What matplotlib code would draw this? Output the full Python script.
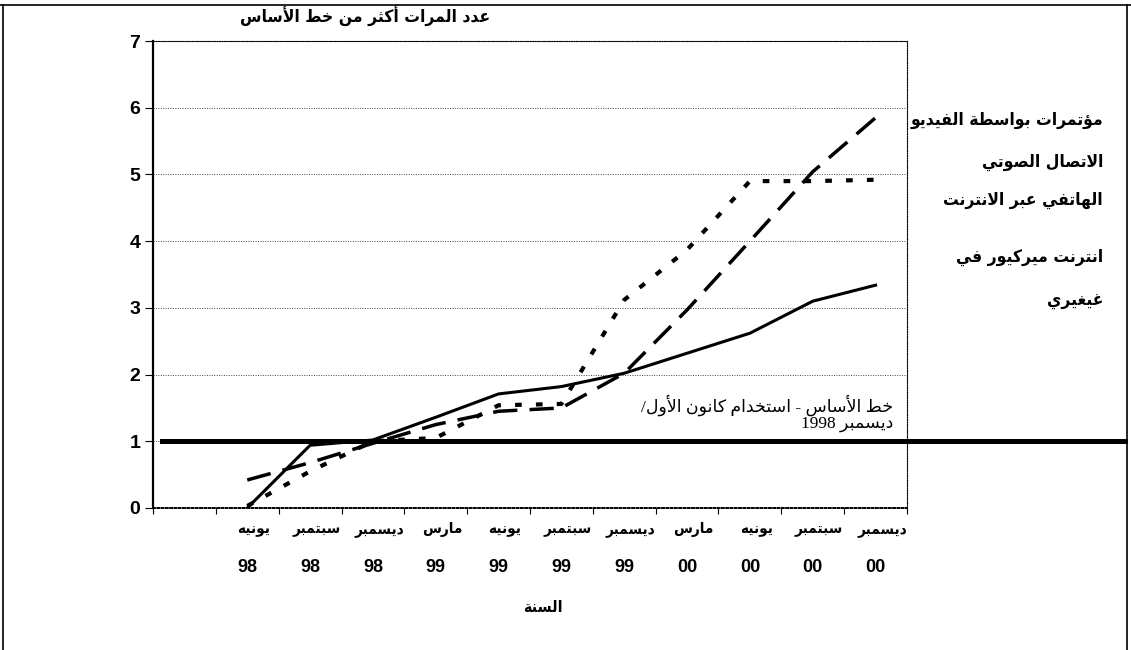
import numpy as np
import matplotlib.pyplot as plt
from matplotlib.lines import Line2D

# quarters, June 1998 .. December 2000 (first slot is empty)
months = ["", "يونيه", "سبتمبر", "ديسمبر", "مارس", "يونيه", "سبتمبر",
          "ديسمبر", "مارس", "يونيه", "سبتمبر", "ديسمبر"]
years = ["", "98", "98", "98", "99", "99", "99", "99", "00", "00", "00", "00"]

internet_mercury = [np.nan, 0.0, 0.94, 1.02, 1.36, 1.71, 1.82, 2.02, 2.32, 2.62, 3.10, 3.34]
video_conf = [np.nan, 0.42, 0.68, 0.97, 1.25, 1.45, 1.50, 2.02, 2.97, 4.00, 5.04, 5.85]
voice_ip = [np.nan, 0.03, 0.55, 1.00, 1.05, 1.54, 1.56, 3.12, 3.87, 4.90, 4.90, 4.92]
baseline = 1

title = "عدد المرات أكثر من خط الأساس"
x_title = "السنة"
series_names = ["مؤتمرات بواسطة الفيديو", "الاتصال الصوتي", "الهاتفي عبر الانترنت",
                "انترنت ميركيور في", "غيغيري"]
baseline_note = "خط الأساس - استخدام كانون الأول/\nديسمبر 1998"


# matplotlib has no arabic shaping, so pick presentation forms by hand
DUAL = {'ب': 0xFE8F, 'ت': 0xFE95, 'ث': 0xFE99, 'ج': 0xFE9D, 'ح': 0xFEA1,
        'خ': 0xFEA5, 'س': 0xFEB1, 'ش': 0xFEB5, 'ص': 0xFEB9, 'ض': 0xFEBD,
        'ط': 0xFEC1, 'ظ': 0xFEC5, 'ع': 0xFEC9, 'غ': 0xFECD, 'ف': 0xFED1,
        'ق': 0xFED5, 'ك': 0xFED9, 'ل': 0xFEDD, 'م': 0xFEE1, 'ن': 0xFEE5,
        'ه': 0xFEE9, 'ي': 0xFEF1}
RIGHT = {'ا': 0xFE8D, 'أ': 0xFE83, 'إ': 0xFE87, 'آ': 0xFE81, 'ؤ': 0xFE85,
         'ة': 0xFE93, 'د': 0xFEA9, 'ذ': 0xFEAB, 'ر': 0xFEAD, 'ز': 0xFEAF,
         'و': 0xFEED, 'ى': 0xFEEF}
LAM_ALEF = {'ا': 0xFEFB, 'أ': 0xFEF7, 'إ': 0xFEF9, 'آ': 0xFEF5}


def shape_line(text):
    units = []
    i = 0
    while i < len(text):
        c = text[i]
        if c == 'ل' and i + 1 < len(text) and text[i + 1] in LAM_ALEF:
            units.append(('R', LAM_ALEF[text[i + 1]]))
            i += 2
            continue
        if c in DUAL:
            units.append(('D', DUAL[c]))
        elif c in RIGHT:
            units.append(('R', RIGHT[c]))
        else:
            units.append((None, c))
        i += 1

    out = []
    for k, (kind, val) in enumerate(units):
        if kind is None:
            out.append(val)
            continue
        joins_prev = k > 0 and units[k - 1][0] == 'D'
        joins_next = (kind == 'D' and k + 1 < len(units)
                      and units[k + 1][0] in ('D', 'R'))
        if kind == 'R':
            form = 1 if joins_prev else 0
        else:
            form = [[0, 2], [1, 3]][joins_prev][joins_next]
        out.append(chr(val + form))

    # right-to-left order, digit runs stay left-to-right
    runs = []
    for ch in out:
        is_digit = ch.isdigit()
        if runs and runs[-1][0] == is_digit:
            runs[-1][1].append(ch)
        else:
            runs.append([is_digit, [ch]])
    visual = ""
    for is_digit, chars in reversed(runs):
        visual += "".join(chars if is_digit else reversed(chars))
    return visual


def ar(text):
    return "\n".join(shape_line(line) for line in text.split("\n"))


AR_FONT = dict(fontfamily="DejaVu Sans", fontweight="bold", fontstretch="condensed")

fig = plt.figure(figsize=(11.31, 6.5), dpi=100)
ax = fig.add_axes([153 / 1131, 1 - 508 / 650, 754 / 1131, 467 / 650])

x = np.arange(len(months))
ax.plot(x, internet_mercury, color="black", lw=2.2, solid_joinstyle="miter")
ax.plot(x, video_conf, color="black", lw=2.5, dashes=(7, 3.5))
ax.plot(x, voice_ip, color="black", lw=3.0, dashes=(1.6, 3.4))
ax.axhline(baseline, xmin=0.012, xmax=1.289, color="black", lw=3.6,
           clip_on=False)

ax.set_xlim(-0.5, len(months) - 0.5)
ax.set_ylim(0, 7)

ax.set_yticks(range(0, 8))
ax.set_yticklabels([str(v) for v in range(0, 8)],
                   fontfamily="Liberation Sans", fontweight="bold", fontsize=14)
ax.tick_params(axis="y", length=6, width=0.8, pad=3)

# category borders get the tick marks, the years sit under the centres
ax.set_xticks(np.arange(-0.5, len(months)))
ax.set_xticklabels([])
ax.tick_params(axis="x", which="major", length=4, width=0.8)
ax.set_xticks(x, minor=True)
ax.set_xticklabels(years, minor=True, fontfamily="Liberation Sans",
                   fontweight="bold", fontsize=13)
ax.tick_params(axis="x", which="minor", length=0, pad=37)

for xi, m in zip(x, months):
    ax.text(xi + 0.1, -0.047, ar(m), transform=ax.get_xaxis_transform(),
            ha="center", va="center", fontsize=11, **AR_FONT)

fig.text(543 / 1131, 1 - 607 / 650, ar(x_title), ha="center", va="center",
         fontsize=11.5, **AR_FONT)

ax.grid(axis="y", color="#444444", linestyle=(0, (1, 1.5)), lw=0.7)
ax.set_axisbelow(True)
for side in ["top", "right", "bottom"]:
    ax.spines[side].set_linestyle((0, (1, 1.2)))
    ax.spines[side].set_linewidth(0.8)
ax.spines["bottom"].set_linewidth(1.4)
ax.spines["left"].set_linewidth(1.6)

fig.text(365 / 1131, 1 - 16 / 650, ar(title), ha="center", va="center",
         fontsize=12.5, **AR_FONT)

label_y = [120, 162, 200, 257, 300]
for name, ypix in zip(series_names, label_y):
    fig.text(1103 / 1131, 1 - ypix / 650, ar(name), ha="right", va="center",
             fontsize=12.5, **AR_FONT)

ax.text(11.28, 1.42, ar(baseline_note), ha="right", va="center",
        fontfamily=["Liberation Serif", "DejaVu Sans"], fontsize=12.5,
        multialignment="right", linespacing=1.05)

# page frame of the scanned figure
for xs, ys in [([0, 1], [1 - 5 / 650] * 2),
               ([3 / 1131] * 2, [0, 1 - 5 / 650]),
               ([1127 / 1131] * 2, [0, 1 - 5 / 650])]:
    fig.add_artist(Line2D(xs, ys, color="black", lw=1.2))

fig.savefig("out.png", dpi=100)
